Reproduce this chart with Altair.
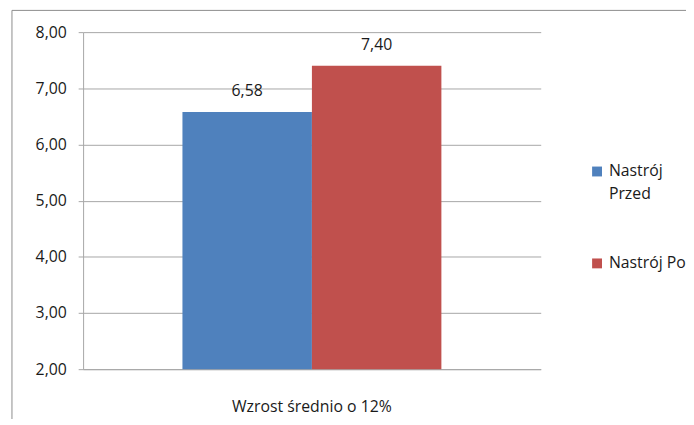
import altair as alt
import pandas as pd

categories = ["Wzrost średnio o 12%"]
series = ["Nastrój Przed", "Nastrój Po"]
values = [6.58, 7.40]
colors = ["#4F81BD", "#C0504D"]

df = pd.DataFrame({
    "cat": [categories[0]] * len(series),
    "series": series,
    "value": values,
})

FONT = "Open Sans"
FS = 16
GRID = "#A6A6A6"
TXT = "#1a1a1a"

x_enc = alt.X("cat:N", title=None,
              scale=alt.Scale(paddingInner=0, paddingOuter=0.3836),
              axis=alt.Axis(labelAngle=0, ticks=False, labelPadding=30,
                            domainColor=GRID, labelFont=FONT, labelFontSize=FS,
                            labelColor=TXT))
y_enc = alt.Y("value:Q", title=None,
              scale=alt.Scale(domain=[2, 8], zero=False, nice=False),
              axis=alt.Axis(values=[2, 3, 4, 5, 6, 7, 8],
                            labelExpr="replace(format(datum.value, '.2f'), '.', ',')",
                            grid=True, gridColor=GRID, domainColor=GRID,
                            tickColor=GRID, tickSize=5, labelPadding=12,
                            labelFont=FONT, labelFontSize=FS, labelColor=TXT))

base = alt.Chart(df)

bars = base.mark_bar(stroke=None).encode(
    x=x_enc,
    xOffset=alt.XOffset("series:N", sort=series, scale=alt.Scale(paddingInner=0, paddingOuter=0)),
    y=y_enc,
    y2=alt.datum(2),
    color=alt.Color("series:N", sort=series,
                    scale=alt.Scale(domain=series, range=colors),
                    legend=alt.Legend(title=None, orient="none", legendX=512, legendY=133,
                                      symbolType="square", symbolSize=100,
                                      symbolStrokeWidth=0,
                                      labelFont=FONT, labelFontSize=FS, labelColor=TXT,
                                      labelOffset=4, rowPadding=54,
                                      labelExpr="datum.label == 'Nastrój Przed' ? ['Nastrój', 'Przed'] : datum.label")),
)

labels = base.transform_calculate(
    lbl="replace(format(datum.value, '.2f'), '.', ',')"
).mark_text(baseline="bottom", dy=-13, font=FONT, fontSize=FS, color=TXT).encode(
    x=alt.X("cat:N"),
    xOffset=alt.XOffset("series:N", sort=series),
    y=alt.Y("value:Q"),
    text="lbl:N",
)

frame = alt.Chart(pd.DataFrame({"f": [0]})).mark_rect(
    fill=None, stroke="#8C8C8C", strokeWidth=1, clip=False
).encode(
    x=alt.value(-72), x2=alt.value(800),
    y=alt.value(-22), y2=alt.value(600),
)

chart = alt.layer(frame, bars, labels).properties(
    width=463, height=341,
    padding={"left": 76, "top": 22, "right": 147, "bottom": 48},
    autosize=alt.AutoSizeParams(type="none"),
).configure(
    background="white",
    view={"stroke": "transparent"},
    style={"guide-label": {"lineHeight": 23}},
)

chart.save("out.html", embed_options={"renderer": "svg", "actions": False})
